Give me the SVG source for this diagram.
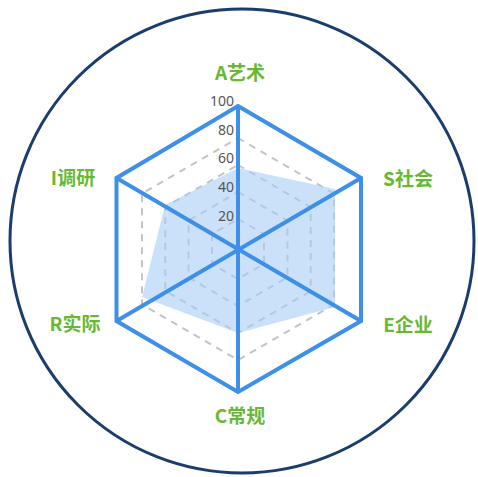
<svg xmlns="http://www.w3.org/2000/svg" width="478" height="477" viewBox="0 0 478 477">
<style>
.ring{fill:none;stroke:#c4c4c8;stroke-width:2;stroke-dasharray:7 6}
.axis{fill:none;stroke:#3d8fe8;stroke-width:4;stroke-linejoin:miter}
.tick{font-family:"Noto Sans","Liberation Sans",sans-serif;font-size:14px;fill:#555;text-anchor:end}
.cat{font-family:"Noto Sans CJK SC","Noto Sans",sans-serif;font-size:19px;font-weight:bold;fill:#69b834;text-anchor:middle}
</style>
<rect width="478" height="477" fill="#fff"/>
<circle cx="242" cy="241" r="232" fill="none" stroke="#1b3d6e" stroke-width="3"/>
<g id="grid">
<polygon class="ring" points="238,138 334,193.5 334,304.5 238,360 142,304.5 142,193.5"/>
<polygon class="ring" points="238,165 310.7,207 310.7,291 238,333 165.3,291 165.3,207"/>
<polygon class="ring" points="238,192 287.4,220.5 287.4,277.5 238,306 188.6,277.5 188.6,220.5"/>
<polygon class="ring" points="238,219 264,234 264,264 238,279 212,264 212,234"/>
</g>
<g id="data">
<polygon points="238,168 335,189 335,307 238,333 142,297 165,205" fill="#a9cdf5" fill-opacity="0.6"/>
</g>
<g id="connectors">
<polygon class="axis" points="238,106 361,178 361,321 238,392 116.5,321 116.5,178"/>
<line class="axis" x1="238" y1="106" x2="238" y2="392"/>
<line class="axis" x1="361" y1="178" x2="116.5" y2="321"/>
<line class="axis" x1="361" y1="321" x2="116.5" y2="178"/>
</g>
<g id="ticks">
<text class="tick" x="234" y="106">100</text>
<text class="tick" x="234" y="135">80</text>
<text class="tick" x="234" y="163">60</text>
<text class="tick" x="234" y="192">40</text>
<text class="tick" x="234" y="221">20</text>
</g>
<g id="node-A"><text class="cat" x="240" y="80">A艺术</text></g>
<g id="node-S"><text class="cat" x="408" y="186">S社会</text></g>
<g id="node-E"><text class="cat" x="408" y="332">E企业</text></g>
<g id="node-C"><text class="cat" x="240" y="423">C常规</text></g>
<g id="node-R"><text class="cat" x="75" y="331">R实际</text></g>
<g id="node-I"><text class="cat" x="73" y="185">I调研</text></g>
</svg>
